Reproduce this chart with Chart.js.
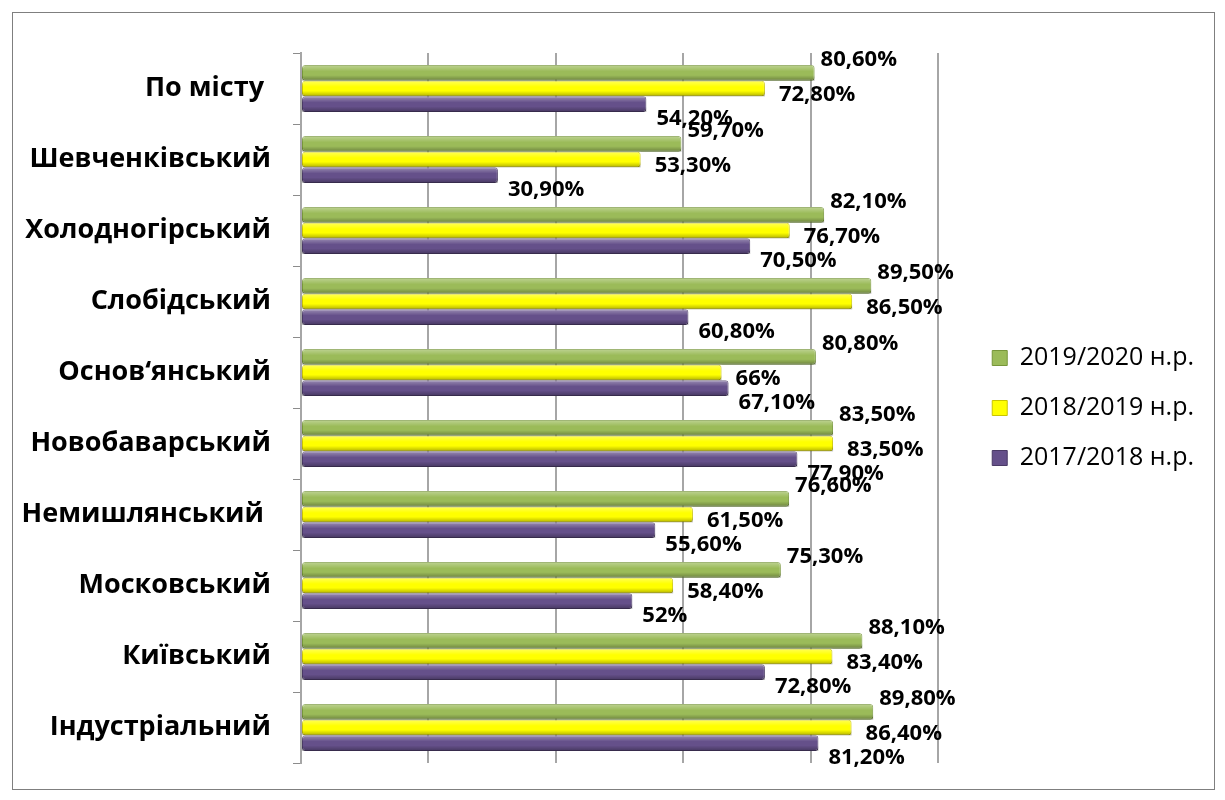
<!DOCTYPE html>
<html>
<head>
<meta charset="utf-8">
<script src="https://cdn.jsdelivr.net/npm/chart.js@4.4.1/dist/chart.umd.min.js"></script>
<style>
  body { margin: 0; background: #fff; }
  .frame {
    position: absolute; left: 12px; top: 12px;
    width: 1203px; height: 778px;
    border: 1px solid #7f7f7f; box-sizing: border-box;
  }
</style>
</head>
<body>
<div class="frame"><canvas id="myChart"></canvas></div>
<script>
// Categories (top to bottom)
const categories = ["По місту ", "Шевченківський", "Холодногірський", "Слобідський", "Основ‘янський",
  "Новобаварський", "Немишлянський ", "Московський", "Київський", "Індустріальний"];

// Series
const seriesNames = ["2019/2020 н.р.", "2018/2019 н.р.", "2017/2018 н.р."];
const values2019 = [80.6, 59.7, 82.1, 89.5, 80.8, 83.5, 76.6, 75.3, 88.1, 89.8];
const values2018 = [72.8, 53.3, 76.7, 86.5, 66, 83.5, 61.5, 58.4, 83.4, 86.4];
const values2017 = [54.2, 30.9, 70.5, 60.8, 67.1, 77.9, 55.6, 52, 72.8, 81.2];

// x axis: 0..100 %, gridline every 20
const xMin = 0;
const xMax = 100;
const xStep = 20;

const fillColors = ["#9bbb59", "#ffff00", "#65508a"];
const edgeColors = ["#77963a", "#c9c400", "#4a3a66"];

const fmt = (v) => Number.isInteger(v) ? v + "%" : v.toFixed(2).replace(".", ",") + "%";

// shading so the bars look a bit like the round 3d bars
const barShade = {
  id: "barShade",
  afterDatasetsDraw(chart) {
    const ctx = chart.ctx;
    chart.data.datasets.forEach((ds, i) => {
      chart.getDatasetMeta(i).data.forEach((el) => {
        const p = el.getProps(["x", "y", "base", "height"], true);
        const left = Math.min(p.x, p.base);
        const top = p.y - p.height / 2;
        const g = ctx.createLinearGradient(0, top, 0, top + p.height);
        g.addColorStop(0, "rgba(255,255,255,0.35)");
        g.addColorStop(0.4, "rgba(255,255,255,0)");
        g.addColorStop(0.65, "rgba(0,0,0,0)");
        g.addColorStop(1, "rgba(0,0,0,0.3)");
        ctx.save();
        ctx.fillStyle = g;
        ctx.fillRect(left, top, Math.abs(p.x - p.base), p.height);
        ctx.restore();
      });
    });
  }
};

// value labels next to bar ends
const valueLabels = {
  id: "valueLabels",
  afterDraw(chart) {
    const ctx = chart.ctx;
    const dx = [6, 14, 10];
    const dy = [-13, 6, 15];
    ctx.save();
    ctx.font = "bold 22px 'Open Sans'";
    ctx.fillStyle = "#000";
    ctx.textAlign = "left";
    ctx.textBaseline = "middle";
    chart.data.datasets.forEach((ds, i) => {
      chart.getDatasetMeta(i).data.forEach((el, j) => {
        ctx.fillText(fmt(ds.data[j]), el.x + dx[i], el.y + dy[i]);
      });
    });
    ctx.restore();
  }
};

const noPad = (scale) => {
  scale.paddingTop = 0;
  scale.paddingBottom = 0;
};

const ctx = document.getElementById("myChart").getContext("2d");
const myChart = new Chart(ctx, {
  type: "bar",
  data: {
    labels: categories,
    datasets: [values2019, values2018, values2017].map((d, i) => ({
      label: seriesNames[i],
      data: d,
      backgroundColor: fillColors[i],
      borderColor: edgeColors[i],
      borderWidth: 1,
      borderSkipped: false,
      borderRadius: 3,
      categoryPercentage: 0.66,
      barPercentage: 1.0
    }))
  },
  options: {
    indexAxis: "y",
    responsive: true,
    maintainAspectRatio: false,
    animation: false,
    layout: { padding: { left: 10, top: 40, right: 10, bottom: 26 } },
    scales: {
      x: {
        min: xMin,
        max: xMax,
        ticks: { display: false, stepSize: xStep },
        grid: { color: "#a6a6a6", lineWidth: 2, drawTicks: false },
        border: { display: false },
        afterFit: (scale) => { scale.height = 0; }
      },
      y: {
        ticks: {
          color: "#000",
          font: { family: "'Open Sans'", size: 27, weight: "bold" },
          padding: 22
        },
        grid: { offset: true, drawOnChartArea: false, tickLength: 8, color: "#8c8c8c" },
        border: { color: "#a6a6a6", width: 2 },
        afterFit: (scale) => { scale.width = 278; noPad(scale); }
      },
      gap: {
        type: "linear",
        position: "right",
        display: true,
        ticks: { display: false },
        grid: { display: false, drawTicks: false },
        border: { display: false },
        afterFit: (scale) => { scale.width = 29; noPad(scale); }
      }
    },
    plugins: {
      legend: {
        position: "right",
        maxWidth: 300,
        labels: {
          color: "#000",
          font: { family: "'Open Sans'", size: 25 },
          boxWidth: 15,
          boxHeight: 15,
          padding: 25
        }
      },
      tooltip: { enabled: false }
    }
  },
  plugins: [barShade, valueLabels]
});
</script>
</body>
</html>
